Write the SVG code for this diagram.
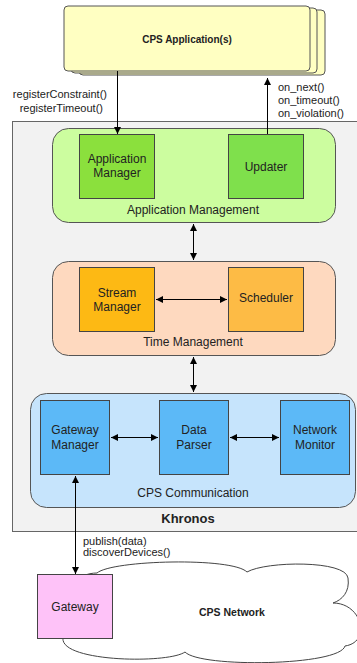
<svg xmlns="http://www.w3.org/2000/svg" width="357" height="663" viewBox="0 0 357 663">
<style>
text{font-family:"Liberation Sans",Arial,sans-serif;fill:#222;}
.t12{font-size:12px;text-anchor:middle;}
.t11{font-size:11px;}
.b{font-weight:bold;}
.box{stroke:#444;stroke-width:1;}
.grp{stroke:#555;stroke-width:1;}
.ln{stroke:#000;stroke-width:1;fill:none;}
</style>
<defs>
<marker id="ah" viewBox="0 0 10 10" refX="10" refY="5" markerWidth="7" markerHeight="7" markerUnits="userSpaceOnUse" orient="auto-start-reverse">
<path d="M0,0 L10,5 L0,10 z" fill="#000"/>
</marker>
</defs>
<rect x="0" y="0" width="357" height="663" fill="#fff"/>

<g id="cps-applications">
<rect x="79" y="10" width="246" height="65" rx="4" fill="#ffffc2" class="grp"/>
<rect x="71" y="8" width="246" height="65" rx="4" fill="#ffffc2" class="grp"/>
<rect x="64" y="6" width="246" height="65" rx="4" fill="#ffffc2" class="grp"/>
<text x="187" y="43" class="b" font-size="10" text-anchor="middle">CPS Application(s)</text>
</g>

<g id="khronos">
<rect x="12.5" y="121.5" width="350" height="410" fill="#f2f2f2" stroke="#666"/>
<text x="188" y="523" class="b" font-size="13" text-anchor="middle">Khronos</text>
</g>

<g id="application-management">
<rect x="52.5" y="128.5" width="283" height="94" rx="16" fill="#ccfd9f" class="grp"/>
<text x="193" y="214" class="t12">Application Management</text>
</g>
<g id="application-manager">
<rect x="79.5" y="134.5" width="75" height="64" fill="#8be03d" class="box"/>
<text x="117" y="163" class="t12">Application</text>
<text x="117" y="177" class="t12">Manager</text>
</g>
<g id="updater">
<rect x="228.5" y="134.5" width="75" height="64" fill="#7fe04c" class="box"/>
<text x="266" y="171" class="t12">Updater</text>
</g>

<g id="time-management">
<rect x="52.5" y="261.5" width="283" height="94" rx="16" fill="#fed9bf" class="grp"/>
<text x="193" y="346" class="t12">Time Management</text>
</g>
<g id="stream-manager">
<rect x="79.5" y="267.5" width="75" height="64" fill="#fdb914" class="box"/>
<text x="117" y="297" class="t12">Stream</text>
<text x="117" y="311" class="t12">Manager</text>
</g>
<g id="scheduler">
<rect x="228.5" y="267.5" width="75" height="64" fill="#fdbb45" class="box"/>
<text x="266" y="302" class="t12">Scheduler</text>
</g>

<g id="cps-communication">
<rect x="30.5" y="393.5" width="325" height="114" rx="16" fill="#c6e4fc" class="grp"/>
<text x="193" y="497" class="t12">CPS Communication</text>
</g>
<g id="gateway-manager">
<rect x="40.5" y="400.5" width="69" height="74" fill="#5cb9f7" class="box"/>
<text x="75" y="434" class="t12">Gateway</text>
<text x="75" y="449" class="t12">Manager</text>
</g>
<g id="data-parser">
<rect x="159.5" y="400.5" width="69" height="74" fill="#5cb9f7" class="box"/>
<text x="194" y="434" class="t12">Data</text>
<text x="194" y="449" class="t12">Parser</text>
</g>
<g id="network-monitor">
<rect x="280.5" y="400.5" width="69" height="74" fill="#5cb9f7" class="box"/>
<text x="315" y="434" class="t12">Network</text>
<text x="315" y="449" class="t12">Monitor</text>
</g>

<g id="cps-network">
<path d="M 60 620 C 60 588, 78 573, 97 573 C 112 560, 232 557, 247 572 C 266 561, 346 560, 348 578 C 350 592, 342 600, 333 603 C 362 603, 372 642, 345 646 C 340 666, 200 668, 185 652 C 168 664, 60 662, 63 638 Z" fill="#fff" stroke="#444"/>
<text x="232" y="616" class="b" font-size="10.5" text-anchor="middle">CPS Network</text>
</g>
<g id="gateway">
<rect x="37.5" y="574.5" width="75" height="64" fill="#fec2f8" class="box"/>
<text x="75" y="611" class="t12">Gateway</text>
</g>

<g id="connectors">
<line x1="117.5" y1="71" x2="117.5" y2="134" class="ln" marker-end="url(#ah)"/>
<line x1="267.5" y1="134" x2="267.5" y2="78" class="ln" marker-end="url(#ah)"/>
<line x1="193.5" y1="224" x2="193.5" y2="260" class="ln" marker-start="url(#ah)" marker-end="url(#ah)"/>
<line x1="193.5" y1="357" x2="193.5" y2="392" class="ln" marker-start="url(#ah)" marker-end="url(#ah)"/>
<line x1="156" y1="299.5" x2="227" y2="299.5" class="ln" marker-start="url(#ah)" marker-end="url(#ah)"/>
<line x1="111" y1="437.5" x2="158" y2="437.5" class="ln" marker-start="url(#ah)" marker-end="url(#ah)"/>
<line x1="230" y1="437.5" x2="279" y2="437.5" class="ln" marker-start="url(#ah)" marker-end="url(#ah)"/>
<line x1="75.5" y1="476" x2="75.5" y2="574" class="ln" marker-start="url(#ah)" marker-end="url(#ah)"/>
<text x="107" y="98" class="t11" text-anchor="end">registerConstraint()</text>
<text x="103" y="112" class="t11" text-anchor="end">registerTimeout()</text>
<text x="278" y="91" class="t11">on_next()</text>
<text x="278" y="104" class="t11">on_timeout()</text>
<text x="278" y="117" class="t11">on_violation()</text>
<text x="83" y="545" class="t11">publish(data)</text>
<text x="83" y="556" class="t11">discoverDevices()</text>
</g>
</svg>
